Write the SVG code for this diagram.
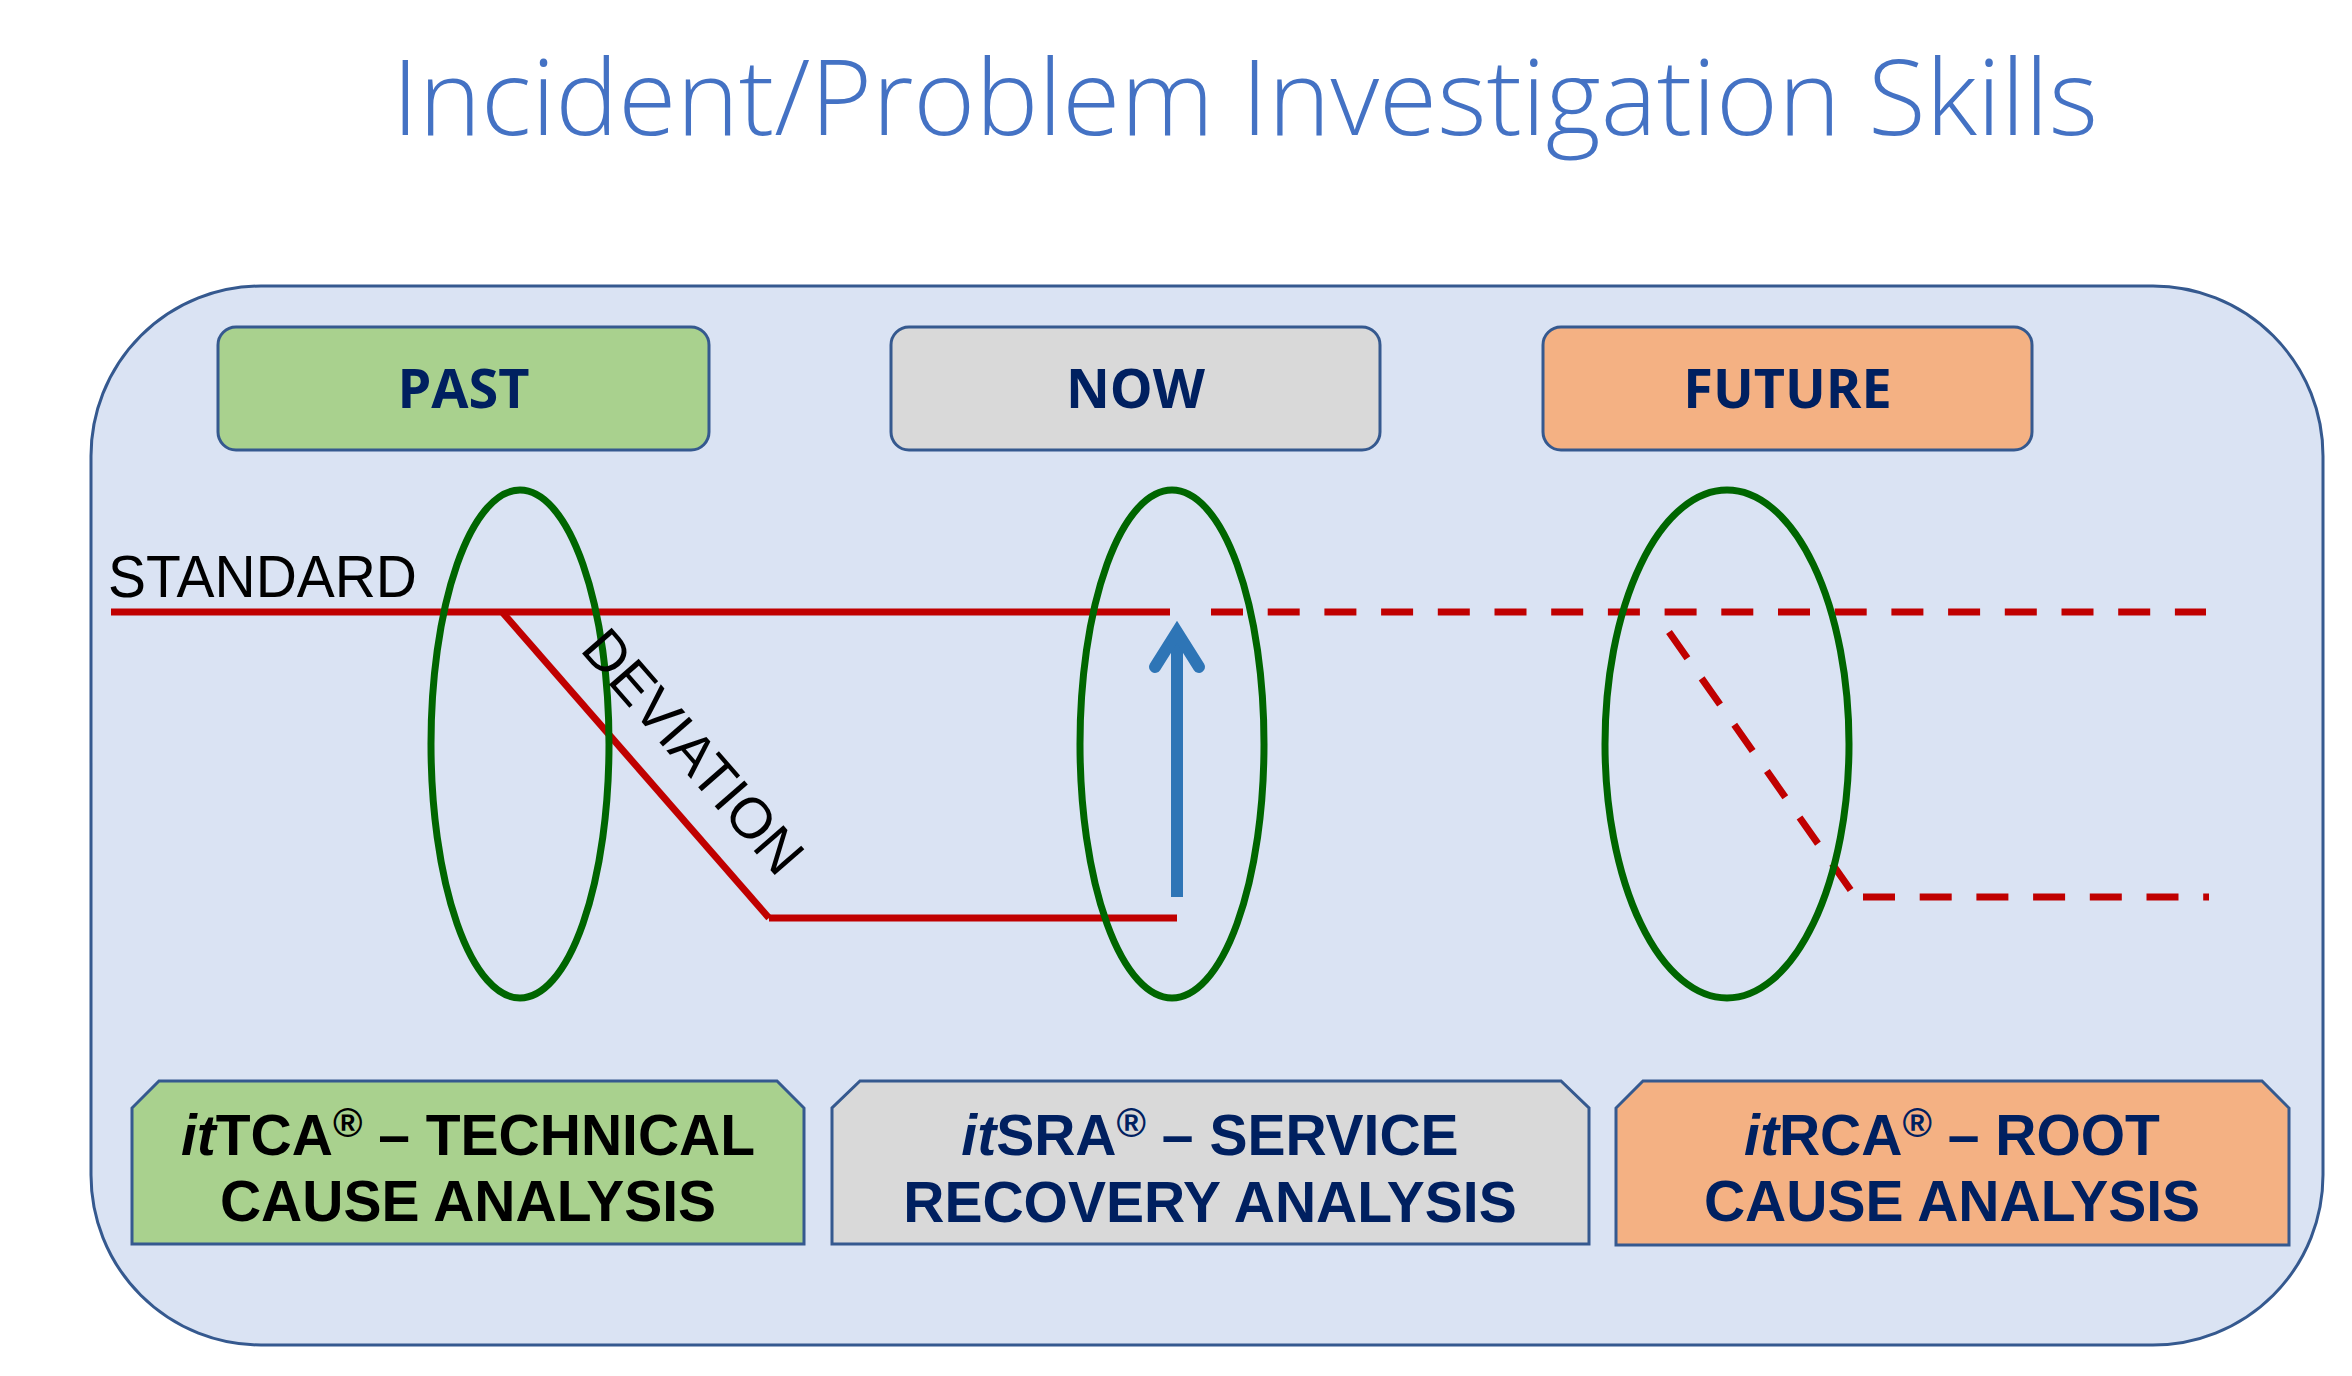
<svg xmlns="http://www.w3.org/2000/svg" width="2352" height="1376" viewBox="0 0 2352 1376">
<defs>
<style>
.box{stroke:#35598F;stroke-width:3}
.hdr{font-family:"Open Sans","Liberation Sans",sans-serif;font-weight:700;font-size:54px;fill:#002060;text-anchor:middle}
.lbl{font-family:"Liberation Sans",Arial,sans-serif;font-weight:700;font-size:57px;text-anchor:middle}
.ell{fill:none;stroke:#006600;stroke-width:7}
.red{stroke:#C00000;stroke-width:7;fill:none}
.dash{stroke-dasharray:32 24.7}
.sup{font-size:40px;font-weight:700}
</style>
</defs>
<rect width="2352" height="1376" fill="#FFFFFF"/>
<text x="392" y="135" font-family="'Open Sans','Liberation Sans',sans-serif" font-weight="300" font-size="105" fill="#4472C4" textLength="1706" lengthAdjust="spacingAndGlyphs">Incident/Problem Investigation Skills</text>
<g id="frame">
<rect x="91" y="286" width="2232" height="1059" rx="170" ry="170" fill="#DAE3F3" stroke="#35598F" stroke-width="3"/>
</g>
<g id="past">
<rect class="box" x="218" y="327" width="491" height="123" rx="18" fill="#A9D18E"/>
<text class="hdr" x="463.5" y="408">PAST</text>
</g>
<g id="now">
<rect class="box" x="891" y="327" width="489" height="123" rx="18" fill="#D9D9D9"/>
<text class="hdr" x="1135.5" y="408">NOW</text>
</g>
<g id="future">
<rect class="box" x="1543" y="327" width="489" height="123" rx="18" fill="#F4B183"/>
<text class="hdr" x="1787.5" y="408">FUTURE</text>
</g>
<g id="lines">
<line class="red" x1="111" y1="612" x2="1170" y2="612"/>
<line class="red dash" x1="1211" y1="612" x2="2206" y2="612"/>
<line class="red" x1="503" y1="613" x2="769" y2="918"/>
<line class="red" x1="769" y1="918" x2="1177" y2="918"/>
<line class="red dash" x1="1669" y1="632" x2="1852" y2="892"/>
<line class="red dash" x1="1863" y1="897" x2="2209" y2="897"/>
</g>
<g id="arrow">
<line x1="1177" y1="897" x2="1177" y2="636" stroke="#2E75B6" stroke-width="12"/>
<polyline points="1155,667 1177,632 1199,667" fill="none" stroke="#2E75B6" stroke-width="12" stroke-linecap="round" stroke-linejoin="miter"/>
</g>
<g id="ellipses">
<ellipse class="ell" cx="520" cy="744" rx="89" ry="254"/>
<ellipse class="ell" cx="1172" cy="744" rx="92" ry="254"/>
<ellipse class="ell" cx="1727" cy="744" rx="122" ry="254"/>
</g>
<g id="labels">
<text x="108" y="597" font-family="'Liberation Sans',Arial,sans-serif" font-size="60" fill="#000" textLength="309" lengthAdjust="spacingAndGlyphs">STANDARD</text>
<text x="0" y="0" font-family="'Liberation Sans',Arial,sans-serif" font-size="57" fill="#000" transform="translate(579,650) rotate(49)">DEVIATION</text>
</g>
<g id="tca">
<polygon class="box" points="159,1081 777,1081 804,1108 804,1244 132,1244 132,1108" fill="#A9D18E"/>
<text class="lbl" x="468" y="1155" fill="#000"><tspan font-style="italic">it</tspan>TCA<tspan class="sup" dy="-18">®</tspan><tspan dy="18"> – TECHNICAL</tspan></text>
<text class="lbl" x="468" y="1221" fill="#000">CAUSE ANALYSIS</text>
</g>
<g id="sra">
<polygon class="box" points="860,1081 1561,1081 1589,1108 1589,1244 832,1244 832,1108" fill="#D9D9D9"/>
<text class="lbl" x="1210" y="1155" fill="#002060"><tspan font-style="italic">it</tspan>SRA<tspan class="sup" dy="-18">®</tspan><tspan dy="18"> – SERVICE</tspan></text>
<text class="lbl" x="1210" y="1222" fill="#002060">RECOVERY ANALYSIS</text>
</g>
<g id="rca">
<polygon class="box" points="1643,1081 2262,1081 2289,1108 2289,1245 1616,1245 1616,1108" fill="#F4B183"/>
<text class="lbl" x="1952" y="1155" fill="#002060"><tspan font-style="italic">it</tspan>RCA<tspan class="sup" dy="-18">®</tspan><tspan dy="18"> – ROOT</tspan></text>
<text class="lbl" x="1952" y="1221" fill="#002060">CAUSE ANALYSIS</text>
</g>
</svg>
